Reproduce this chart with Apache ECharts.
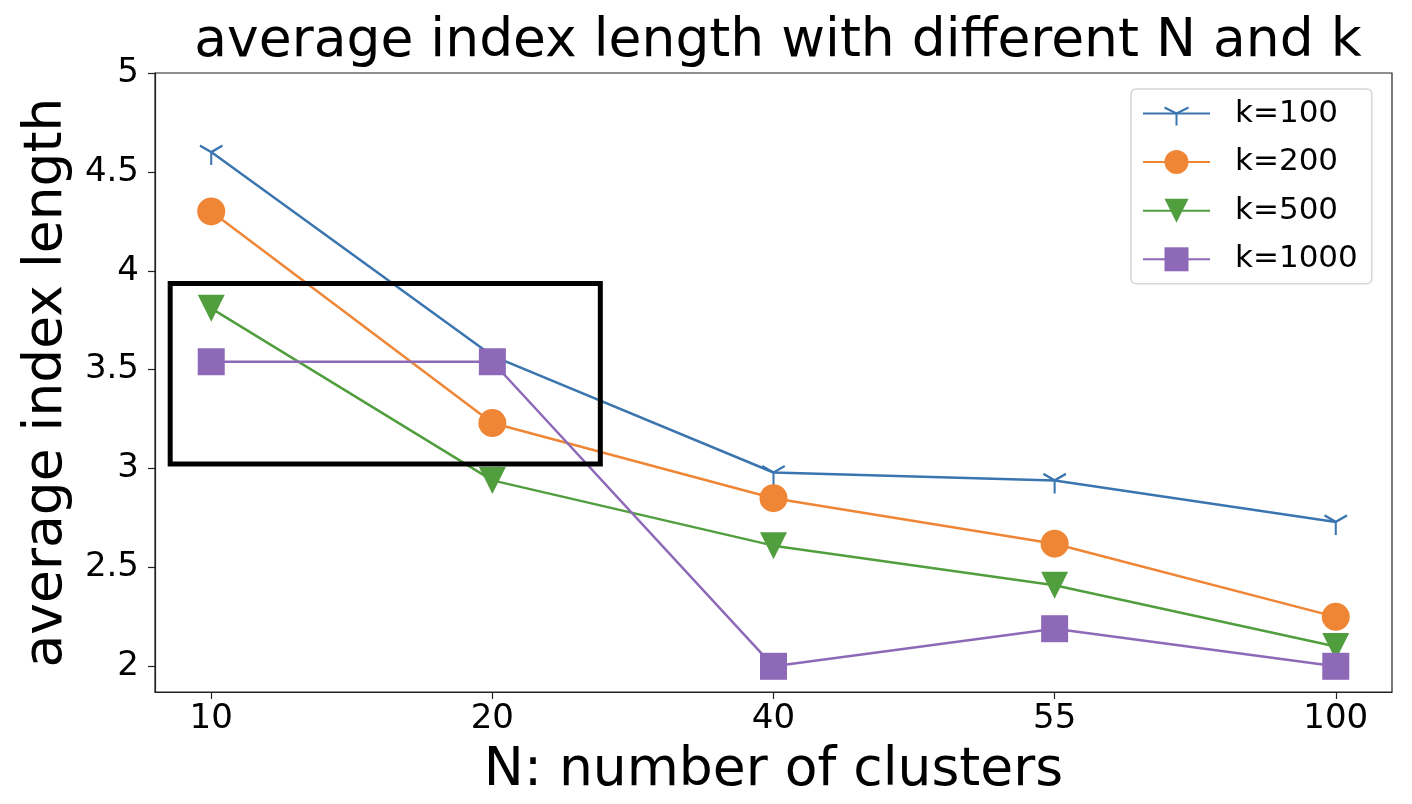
<!DOCTYPE html>
<html>
<head>
<meta charset="UTF-8"/>
<title>average index length</title>
<script src="https://cdn.jsdelivr.net/npm/echarts@6/dist/echarts.min.js"></script>
<style>
  html, body { margin: 0; padding: 0; background: #fff; }
  #chart { width: 1412px; height: 804px; }
</style>
</head>
<body>
<div id="chart"></div>
<script>
// categories on the x axis (N values)
var nValues = ['10', '20', '40', '55', '100'];
var yTicks = [2, 2.5, 3, 3.5, 4, 4.5, 5];

// average index length per k
var k100 = [4.60, 3.57, 2.98, 2.94, 2.73];
var k200 = [4.30, 3.23, 2.85, 2.62, 2.25];
var k500 = [3.81, 2.94, 2.61, 2.41, 2.10];
var k1000 = [3.54, 3.54, 2.00, 2.19, 2.00];

// highlighted box, in data units (x = category index, y = value)
var boxX = [-0.146, 1.384];
var boxY = [3.023, 3.936];

var font = 'DejaVu Sans';
var triDown = 'path://M0,0 L0,1 M0,0 L-0.866,-0.5 M0,0 L0.866,-0.5 M0,-1 L0,-1';
var triangle = 'path://M0,0 L2,0 L1,2 Z';

function pairs(arr) {
  return arr.map(function (v, i) { return [i, v]; });
}

function lineSeries(name, data, color, symbol, size) {
  return {
    name: name,
    type: 'line',
    data: pairs(data),
    symbol: symbol,
    symbolSize: size,
    lineStyle: { color: color, width: 2.5 },
    itemStyle: { color: color, borderColor: color, borderWidth: symbol === triDown ? 2.2 : 0 },
    emphasis: { disabled: true },
    animation: false
  };
}

var chart = echarts.init(document.getElementById('chart'));
var series = [
  lineSeries('k=100', k100, '#3b75af', triDown, [22.5, 26]),
  lineSeries('k=200', k200, '#ef8636', 'circle', 28),
  lineSeries('k=500', k500, '#519e3e', triangle, 27),
  lineSeries('k=1000', k1000, '#8d69b8', 'rect', 27)
];
series.push({
  name: 'box',
  type: 'line',
  data: [[boxX[0], boxY[1]], [boxX[1], boxY[1]], [boxX[1], boxY[0]], [boxX[0], boxY[0]], [boxX[0], boxY[1]]],
  symbol: 'none',
  z: 10,
  lineStyle: { color: '#000', width: 5, join: 'miter', cap: 'square' },
  emphasis: { disabled: true },
  animation: false
});

chart.setOption({
  animation: false,
  title: {
    text: 'average index length with different N and k',
    left: 773, textAlign: 'center', top: 10,
    textStyle: { fontFamily: font, fontSize: 53.5, fontWeight: 'normal', color: '#000' }
  },
  legend: {
    data: ['k=100', 'k=200', 'k=500', 'k=1000'],
    orient: 'vertical',
    left: 1131, top: 89,
    padding: [9, 14, 9, 11],
    itemWidth: 67, itemHeight: 30, itemGap: 17.6,
    borderColor: '#d6d6d6', borderWidth: 1.5, borderRadius: 5,
    textStyle: { fontFamily: font, fontSize: 31, color: '#000', padding: [0, 0, 0, 20], lineHeight: 30 }
  },
  grid: {
    left: 155, right: 20, top: 73, bottom: 112,
    show: true, borderColor: '#222', borderWidth: 1.2
  },
  xAxis: {
    type: 'value',
    min: -0.2, max: 4.2,
    name: 'N: number of clusters',
    nameLocation: 'middle', nameGap: 52,
    nameTextStyle: { fontFamily: font, fontSize: 53.5, color: '#000' },
    axisLine: { show: true, onZero: false, lineStyle: { color: '#222', width: 1.2 } },
    axisTick: { show: true, length: 7, customValues: [0, 1, 2, 3, 4], lineStyle: { color: '#222', width: 1.2 } },
    axisLabel: {
      customValues: [0, 1, 2, 3, 4],
      formatter: function (v) { return nValues[Math.round(v)]; },
      fontFamily: font, fontSize: 34, color: '#000', margin: 10
    },
    splitLine: { show: false }
  },
  yAxis: {
    type: 'value',
    min: 1.87, max: 5,
    name: 'average index length',
    nameLocation: 'middle', nameGap: 80,
    nameTextStyle: { fontFamily: font, fontSize: 53.5, color: '#000' },
    axisLine: { show: true, onZero: false, lineStyle: { color: '#222', width: 1.2 } },
    axisTick: { show: true, length: 7, customValues: yTicks, lineStyle: { color: '#222', width: 1.2 } },
    axisLabel: {
      customValues: yTicks,
      fontFamily: font, fontSize: 34, color: '#000', margin: 16
    },
    splitLine: { show: false }
  },
  series: series
});
</script>
</body>
</html>
